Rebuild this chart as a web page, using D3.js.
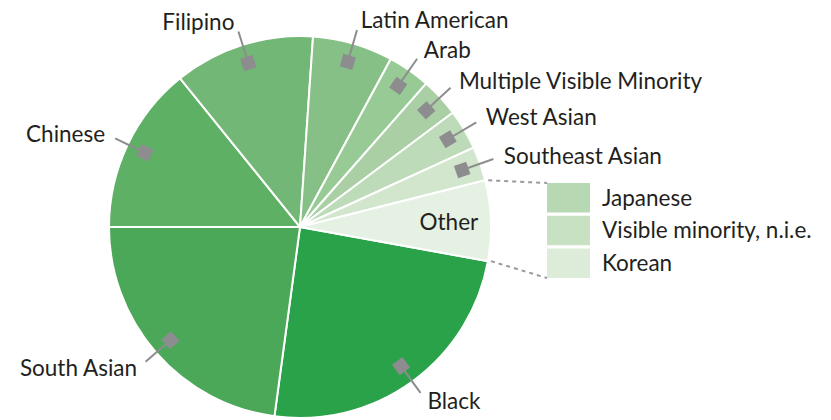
<!DOCTYPE html>
<html>
<head>
<meta charset="utf-8">
<script src="https://cdn.jsdelivr.net/npm/d3@7"></script>
<style>
  body { margin: 0; background: #ffffff; }
  text { font-family: Lato, "Open Sans", sans-serif; fill: #231f20; }
</style>
</head>
<body>
<div id="chart"></div>
<script>
// slice data (percent of visible minority population), clockwise from "Black"
var groups = ['Black', 'South Asian', 'Chinese', 'Filipino', 'Latin American', 'Arab',
              'Multiple Visible Minority', 'West Asian', 'Southeast Asian', 'Other'];
var shares = [24.3, 22.9, 14.2, 11.9, 6.8, 3.6, 3.3, 3.4, 2.9, 6.8];
var colors = ['#29a249', '#4aa858', '#5db064', '#72b775', '#86c087', '#98ca95',
              '#aacfa5', '#bddbb8', '#d1e6cc', '#e5f1e2'];

// breakdown of the "Other" slice
var otherGroups = ['Japanese', 'Visible minority, n.i.e.', 'Korean'];
var otherShares = [2.4, 2.3, 2.1];
var otherColors = ['#b6d8b2', '#c8e1c3', '#dcecd8'];

var width = 831, height = 420;
var cx = 300, cy = 227, radius = 191;
var fontSize = '22.5px';

var svg = d3.select('#chart').append('svg')
    .attr('width', width)
    .attr('height', height);

var g = svg.append('g')
    .attr('transform', 'translate(' + cx + ',' + cy + ')');

// pie starts at the Other/Black boundary (about 100 degrees clockwise from 12 o'clock)
var start = 100.3 * Math.PI / 180;
var pie = d3.pie().sort(null).value(function(d) { return d; })
    .startAngle(start).endAngle(start + 2 * Math.PI);
var arcs = pie(shares);

var arc = d3.arc().innerRadius(0).outerRadius(radius);

g.selectAll('path.slice')
    .data(arcs)
    .enter().append('path')
    .attr('class', 'slice')
    .attr('d', arc)
    .attr('fill', function(d, i) { return colors[i]; })
    .attr('stroke', '#ffffff')
    .attr('stroke-width', 2);

function mid(d) { return (d.startAngle + d.endAngle) / 2; }
function pt(a, r) { return [Math.sin(a) * r, -Math.cos(a) * r]; }

// leader lines, markers and labels for all slices but "Other"
var labelled = arcs.slice(0, arcs.length - 1);

g.selectAll('line.leader')
    .data(labelled)
    .enter().append('line')
    .attr('class', 'leader')
    .attr('x1', function(d) { return pt(mid(d), radius * 0.9)[0]; })
    .attr('y1', function(d) { return pt(mid(d), radius * 0.9)[1]; })
    .attr('x2', function(d) { return pt(mid(d), radius + 14)[0]; })
    .attr('y2', function(d) { return pt(mid(d), radius + 14)[1]; })
    .attr('stroke', '#8d8d8f')
    .attr('stroke-width', 2);

g.selectAll('rect.marker')
    .data(labelled)
    .enter().append('rect')
    .attr('class', 'marker')
    .attr('x', -6.5).attr('y', -6.5)
    .attr('width', 13).attr('height', 13)
    .attr('fill', '#8d8d8f')
    .attr('transform', function(d) {
      var p = pt(mid(d), radius * 0.9);
      return 'translate(' + p[0] + ',' + p[1] + ') rotate(' + (mid(d) * 180 / Math.PI) + ')';
    });

g.selectAll('text.label')
    .data(labelled)
    .enter().append('text')
    .attr('class', 'label')
    .attr('x', function(d) { return pt(mid(d), radius + 24)[0] + (Math.sin(mid(d)) > 0 ? 1 : -1); })
    .attr('y', function(d) { return pt(mid(d), radius + 24)[1]; })
    .attr('dy', '0.35em')
    .attr('text-anchor', function(d) { return Math.sin(mid(d)) > 0 ? 'start' : 'end'; })
    .style('font-size', fontSize)
    .text(function(d, i) { return groups[i]; });

// "Other" label inside its slice
var other = arcs[arcs.length - 1];
g.append('text')
    .attr('x', pt(mid(other), radius * 0.78)[0])
    .attr('y', pt(mid(other), radius * 0.78)[1])
    .attr('dy', '0.35em')
    .attr('text-anchor', 'middle')
    .style('font-size', fontSize)
    .text(groups[groups.length - 1]);

// breakdown legend for the "Other" slice
var boxX = 547, boxW = 43;
var yb = d3.scaleBand().domain(otherGroups).range([183, 278]).paddingInner(0.1);

var p0 = pt(other.startAngle, radius), p1 = pt(other.endAngle, radius);
svg.append('line')
    .attr('x1', cx + p0[0] + 3).attr('y1', cy + p0[1])
    .attr('x2', boxX).attr('y2', yb(otherGroups[0]))
    .attr('stroke', '#9a9a9c').attr('stroke-width', 2).attr('stroke-dasharray', '4,4');
svg.append('line')
    .attr('x1', cx + p1[0] + 3).attr('y1', cy + p1[1])
    .attr('x2', boxX).attr('y2', yb(otherGroups[2]) + yb.bandwidth())
    .attr('stroke', '#9a9a9c').attr('stroke-width', 2).attr('stroke-dasharray', '4,4');

var leg = svg.selectAll('g.sub')
    .data(otherGroups)
    .enter().append('g')
    .attr('class', 'sub');

leg.append('rect')
    .attr('x', boxX)
    .attr('y', function(d) { return yb(d); })
    .attr('width', boxW)
    .attr('height', yb.bandwidth())
    .attr('fill', function(d, i) { return otherColors[i]; });

leg.append('text')
    .attr('x', boxX + boxW + 12)
    .attr('y', function(d) { return yb(d) + yb.bandwidth() / 2; })
    .attr('dy', '0.35em')
    .style('font-size', fontSize)
    .text(function(d) { return d; });
</script>
</body>
</html>
